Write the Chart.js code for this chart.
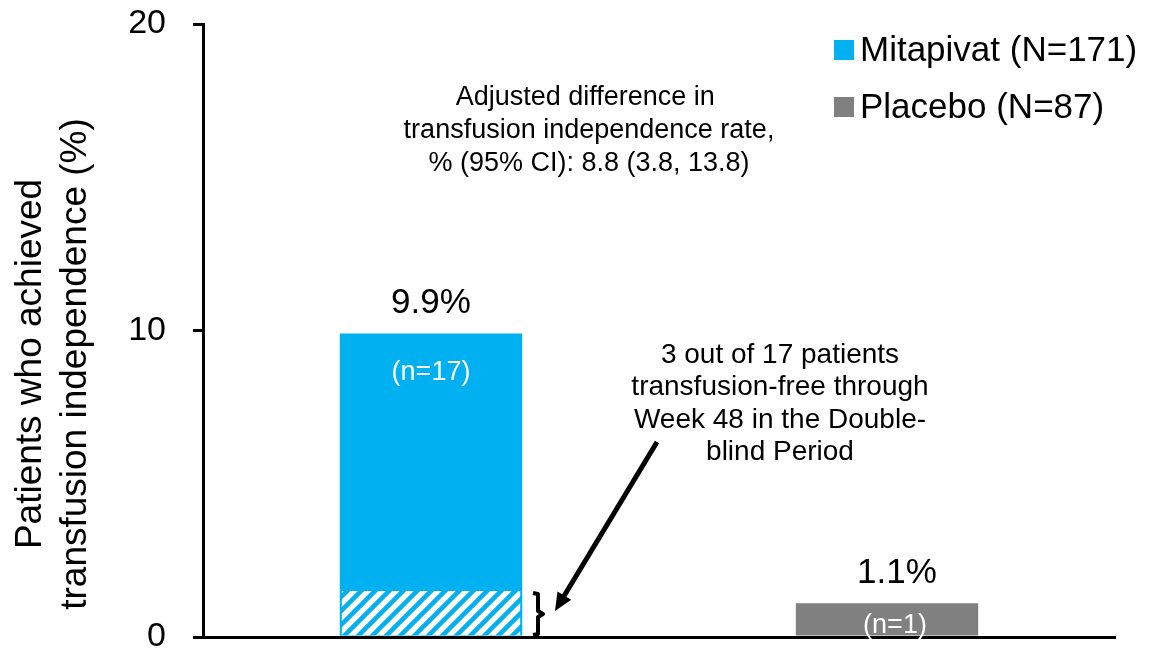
<!DOCTYPE html>
<html>
<head>
<meta charset="utf-8">
<script src="https://cdn.jsdelivr.net/npm/chart.js@4"></script>
<style>
  html, body { margin: 0; padding: 0; background: #fff; }
  canvas { display: block; }
</style>
</head>
<body>
<canvas id="chart" width="1159" height="651"></canvas>
<script>
'use strict';

const categories = ['Mitapivat', 'Placebo'];
const mitapivatValues = [9.9, null];
const placeboValues = [null, 1.1];
// portion of the Mitapivat bar that is hatched (transfusion-free through week 48)
const hatchedValues = [1.5, null];
const legendLabels = ['Mitapivat (N=171)', 'Placebo (N=87)'];
const valueLabels = ['9.9%', '1.1%'];
const countLabels = ['(n=17)', '(n=1)'];
const yTicks = [0, 10, 20];
const yTitle = ['Patients who achieved', 'transfusion independence (%)'];
const diffNote = ['Adjusted difference in ', 'transfusion independence rate,', '% (95% CI): 8.8 (3.8, 13.8)'];
const freeNote = ['3 out of 17 patients', 'transfusion-free through', 'Week 48 in the Double-', 'blind Period'];

const BLUE = '#00B0F0';
const GREY = '#808080';
const FONT = '"Liberation Sans", Arial, sans-serif';

function makeHatch() {
  const s = 14;
  const c = document.createElement('canvas');
  c.width = s; c.height = s;
  const g = c.getContext('2d');
  g.fillStyle = '#fff';
  g.fillRect(0, 0, s, s);
  g.strokeStyle = BLUE;
  g.lineWidth = 4.5;
  g.beginPath();
  for (const k of [0, s, 2 * s]) {
    g.moveTo(k - 2 * s, 2 * s);
    g.lineTo(k + 2 * s, -2 * s);
  }
  g.stroke();
  return g.createPattern(c, 'repeat');
}

function noPad(s) {
  s.paddingTop = 0;
  s.paddingBottom = 0;
  s.paddingLeft = 0;
  s.paddingRight = 0;
}

const extras = {
  id: 'extras',
  afterDraw(chart) {
    const ctx = chart.ctx;
    const x = chart.scales.x;
    const y = chart.scales.y;
    ctx.save();

    // y axis title
    ctx.fillStyle = '#000';
    ctx.font = `37px ${FONT}`;
    ctx.textAlign = 'center';
    ctx.textBaseline = 'middle';
    ctx.save();
    ctx.translate(0, 364);
    ctx.rotate(-Math.PI / 2);
    ctx.fillText(yTitle[0], 0, 31);
    ctx.fillText(yTitle[1], 0, 76);
    ctx.restore();

    // legend
    const legendColors = [BLUE, GREY];
    ctx.textAlign = 'left';
    ctx.font = `35px ${FONT}`;
    legendLabels.forEach((t, i) => {
      const cy = 50 + i * 57;
      ctx.fillStyle = legendColors[i];
      ctx.fillRect(834, cy - 10, 20, 20);
      ctx.fillStyle = '#000';
      ctx.fillText(t, 860, cy + 1);
    });

    // value labels above bars, counts inside
    const tops = [mitapivatValues[0], placeboValues[1]];
    ctx.textAlign = 'center';
    tops.forEach((v, i) => {
      const cx = x.getPixelForValue(i);
      const top = y.getPixelForValue(v);
      ctx.fillStyle = '#000';
      ctx.font = `35px ${FONT}`;
      ctx.fillText(valueLabels[i], cx + (i === 1 ? 10 : 0), top - 30);
      ctx.fillStyle = '#fff';
      ctx.font = `27px ${FONT}`;
      const ny = i === 0 ? top + 39 : (top + y.getPixelForValue(0)) / 2 + 5;
      ctx.fillText(countLabels[i], cx + (i === 1 ? 8 : 0), ny);
    });

    // notes
    ctx.fillStyle = '#000';
    ctx.font = `27px ${FONT}`;
    diffNote.forEach((t, i) => ctx.fillText(t, 589, 98 + i * 33));
    ctx.font = `28px ${FONT}`;
    freeNote.forEach((t, i) => ctx.fillText(t, 780, 355 + i * 32.5));

    // brace next to hatched part
    const hatchTop = y.getPixelForValue(hatchedValues[0]);
    const base = y.getPixelForValue(0);
    const bx = 538;
    const mid = (hatchTop + base) / 2;
    ctx.strokeStyle = '#000';
    ctx.lineWidth = 4;
    ctx.lineJoin = 'round';
    ctx.beginPath();
    ctx.moveTo(bx - 5, hatchTop + 2);
    ctx.lineTo(bx, hatchTop + 3);
    ctx.lineTo(bx, mid - 3);
    ctx.lineTo(bx + 5, mid);
    ctx.lineTo(bx, mid + 3);
    ctx.lineTo(bx, base - 3);
    ctx.lineTo(bx - 5, base - 2);
    ctx.stroke();

    // arrow from note to brace
    const ax0 = 657, ay0 = 442;
    const ax1 = bx + 17, ay1 = mid - 3;
    const ang = Math.atan2(ay1 - ay0, ax1 - ax0);
    ctx.lineWidth = 5;
    ctx.lineCap = 'butt';
    ctx.beginPath();
    ctx.moveTo(ax0, ay0);
    ctx.lineTo(ax1 - 14 * Math.cos(ang), ay1 - 14 * Math.sin(ang));
    ctx.stroke();
    ctx.fillStyle = '#000';
    ctx.beginPath();
    ctx.moveTo(ax1, ay1);
    ctx.lineTo(ax1 - 18 * Math.cos(ang) + 8 * Math.sin(ang), ay1 - 18 * Math.sin(ang) - 8 * Math.cos(ang));
    ctx.lineTo(ax1 - 18 * Math.cos(ang) - 8 * Math.sin(ang), ay1 - 18 * Math.sin(ang) + 8 * Math.cos(ang));
    ctx.closePath();
    ctx.fill();

    ctx.restore();
  }
};

const config = {
  type: 'bar',
  data: {
    labels: categories,
    datasets: [
      {
        label: legendLabels[0],
        data: mitapivatValues,
        backgroundColor: BLUE,
        borderWidth: 0
      },
      {
        label: legendLabels[1],
        data: placeboValues,
        backgroundColor: GREY,
        borderWidth: 0
      },
      {
        label: 'hatched',
        data: hatchedValues,
        backgroundColor: makeHatch(),
        borderColor: BLUE,
        borderWidth: { left: 2, right: 2, top: 0, bottom: 0 },
        order: -1
      }
    ]
  },
  options: {
    responsive: false,
    animation: false,
    devicePixelRatio: 1,
    barPercentage: 0.4,
    categoryPercentage: 1.0,
    layout: { padding: { top: 24, right: 44, bottom: 14, left: 0 } },
    plugins: {
      legend: { display: false },
      tooltip: { enabled: false }
    },
    scales: {
      x: {
        stacked: true,
        grid: { display: false },
        ticks: { display: false },
        border: { display: true, color: '#000', width: 3 },
        afterFit: s => { s.height = 0; noPad(s); }
      },
      y: {
        min: 0,
        max: 20,
        afterBuildTicks: s => { s.ticks = yTicks.map(v => ({ value: v })); },
        ticks: {
          color: '#000',
          font: { size: 34, family: FONT },
          padding: 27
        },
        grid: {
          drawOnChartArea: false,
          drawTicks: true,
          tickLength: 10,
          color: '#000',
          lineWidth: 3
        },
        border: { display: true, color: '#000', width: 3 },
        afterFit: s => { s.width = 203; noPad(s); }
      }
    }
  },
  plugins: [extras]
};

const chart = new Chart(document.getElementById('chart').getContext('2d'), config);
</script>
</body>
</html>
